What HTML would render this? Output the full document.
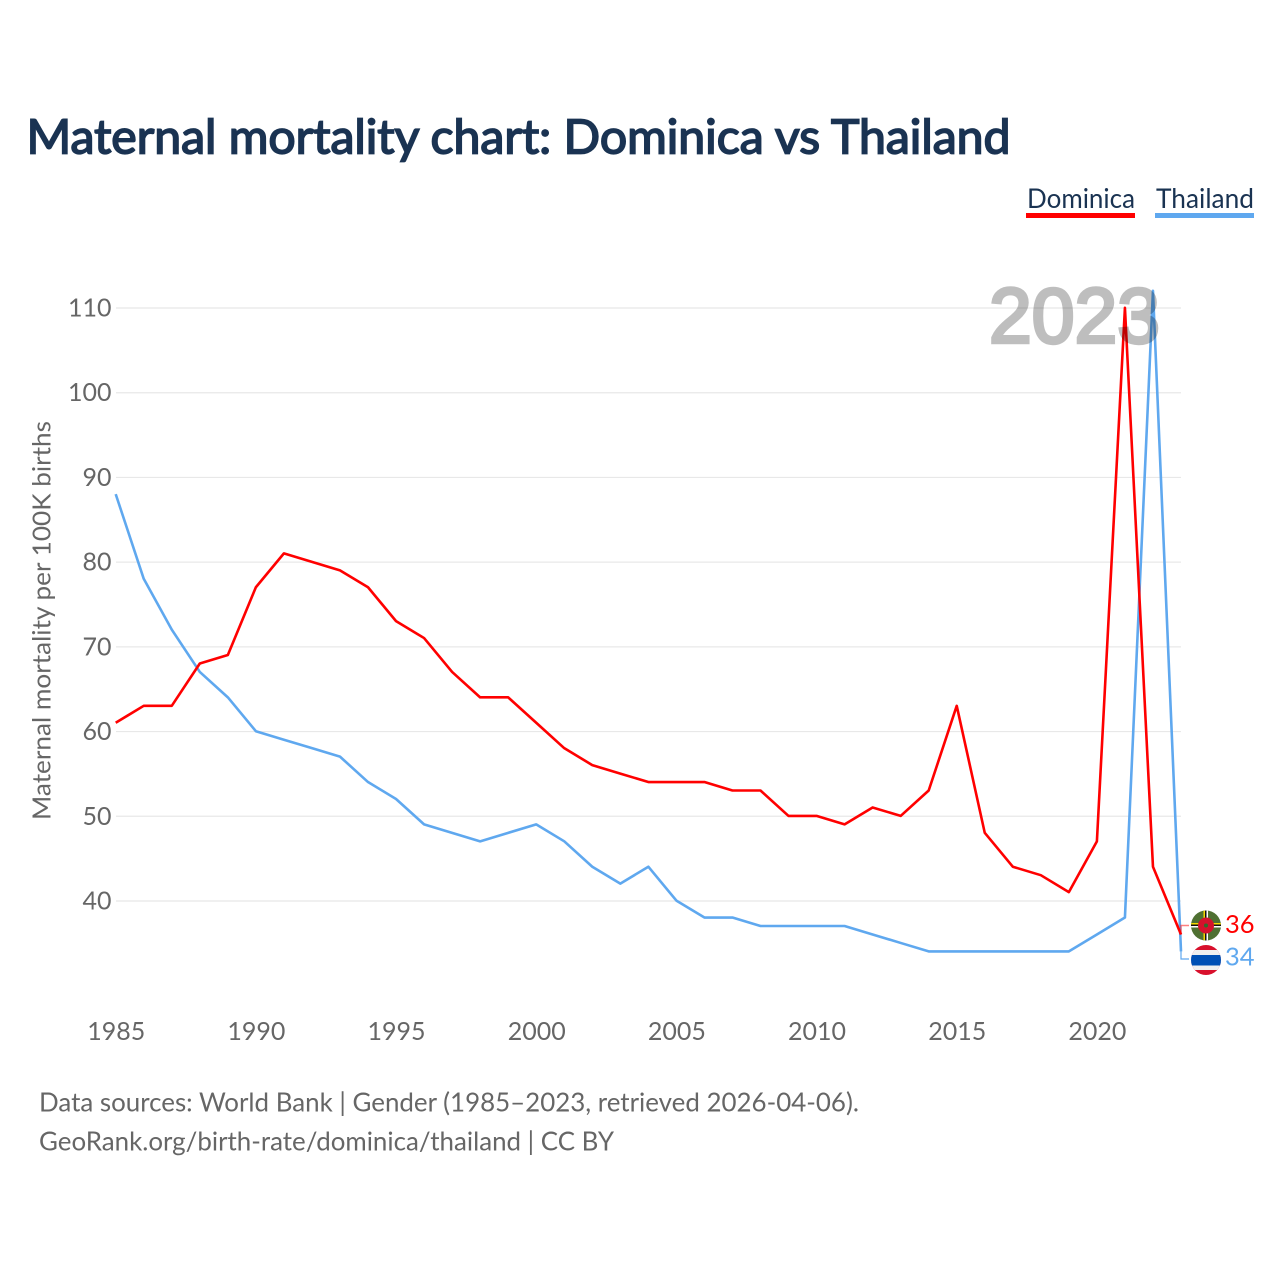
<!DOCTYPE html>
<html>
<head>
<meta charset="utf-8">
<style>
html,body{margin:0;padding:0;background:#fff}
svg{display:block}
text{font-family:"Lato","Carlito","Liberation Sans",sans-serif}
</style>
</head>
<body>
<svg id="chart" width="1280" height="1280" viewBox="0 0 1280 1280" xmlns="http://www.w3.org/2000/svg">
<defs>
<clipPath id="flag-clip-d"><circle cx="1206" cy="925.5" r="15"/></clipPath>
<clipPath id="flag-clip-t"><circle cx="1206" cy="960" r="15"/></clipPath>
</defs>
<text x="26.5" y="153.5" font-size="47.5" font-weight="400" fill="#1a3352" stroke="#1a3352" stroke-width="1.7" textLength="984" lengthAdjust="spacingAndGlyphs">Maternal mortality chart: Dominica vs Thailand</text>
<g>
<text x="1027" y="208" font-size="27" fill="#1a3352" textLength="108" lengthAdjust="spacingAndGlyphs">Dominica</text>
<rect x="1026" y="213" width="109" height="5" fill="#ff0000"/>
</g>
<g>
<text x="1156" y="208" font-size="27" fill="#1a3352" textLength="98" lengthAdjust="spacingAndGlyphs">Thailand</text>
<rect x="1155" y="213" width="99" height="5" fill="#5fa8ef"/>
</g>
<g id="grid"></g>
<g id="yticks"></g>
<g id="xticks"></g>
<text transform="translate(50.5,820) rotate(-90)" font-size="25" fill="#666" textLength="399" lengthAdjust="spacingAndGlyphs">Maternal mortality per 100K births</text>
<g id="series"></g>
<text x="989" y="342.5" font-size="78" font-weight="400" fill="#000" stroke="#000" stroke-width="3.4" opacity="0.25" textLength="171" lengthAdjust="spacingAndGlyphs" style="font-family:'Liberation Sans',sans-serif">2023</text>
<g clip-path="url(#flag-clip-d)">
<rect x="1191" y="910" width="30" height="31" fill="#4f7032"/>
<rect x="1191" y="923" width="30" height="1.5" fill="#f5d800"/>
<rect x="1191" y="924.5" width="30" height="1.5" fill="#111"/>
<rect x="1191" y="926" width="30" height="1.5" fill="#fff"/>
<rect x="1203.5" y="910" width="1.5" height="31" fill="#f5d800"/>
<rect x="1205" y="910" width="1.5" height="31" fill="#111"/>
<rect x="1206.5" y="910" width="1.5" height="31" fill="#fff"/>
<circle cx="1206" cy="925.5" r="8" fill="#d4122c"/>
<circle cx="1206" cy="925.5" r="2" fill="#2f6b2a"/>
</g>
<g clip-path="url(#flag-clip-t)">
<rect x="1191" y="945" width="30" height="30" fill="#d8102c"/>
<rect x="1191" y="950" width="30" height="20" fill="#f0f0f0"/>
<rect x="1191" y="955" width="30" height="10.5" fill="#0050b5"/>
</g>
<text x="1225" y="933" font-size="25.5" fill="#ff0000">36</text>
<text x="1225" y="965.5" font-size="25.5" fill="#5fa8ef">34</text>
<text x="39" y="1111.5" font-size="26" fill="#666" textLength="820" lengthAdjust="spacingAndGlyphs">Data sources: World Bank | Gender (1985–2023, retrieved 2026-04-06).</text>
<text x="39" y="1150.5" font-size="26" fill="#666" textLength="575" lengthAdjust="spacingAndGlyphs">GeoRank.org/birth-rate/dominica/thailand | CC BY</text>
</svg>
<script>
const years = [1985,1986,1987,1988,1989,1990,1991,1992,1993,1994,1995,1996,1997,1998,1999,2000,2001,2002,2003,2004,2005,2006,2007,2008,2009,2010,2011,2012,2013,2014,2015,2016,2017,2018,2019,2020,2021,2022,2023];
const dominica = [61,63,63,68,69,77,81,80,79,77,73,71,67,64,64,61,58,56,55,54,54,54,53,53,50,50,49,51,50,53,63,48,44,43,41,47,110,44,36];
const thailand = [88,78,72,67,64,60,59,58,57,54,52,49,48,47,48,49,47,44,42,44,40,38,38,37,37,37,37,36,35,34,34,34,34,34,34,36,38,112,34];
const yTickValues = [40,50,60,70,80,90,100,110];
const xTickValues = [1985,1990,1995,2000,2005,2010,2015,2020];
const NS = 'http://www.w3.org/2000/svg';
const xScale = y => 115.7 + (y - 1985) * (1181 - 115.7) / 38;
const yScale = v => 900.6 - (v - 40) * (900.6 - 307.8) / 70;
const gridY = v => 901 - (v - 40) * (901 - 308) / 70;
function make(tag, attrs, parent, txt) {
  const el = document.createElementNS(NS, tag);
  for (const k in attrs) el.setAttribute(k, attrs[k]);
  if (txt !== undefined) el.textContent = txt;
  parent.appendChild(el);
  return el;
}
const grid = document.getElementById('grid');
const yticks = document.getElementById('yticks');
const xticks = document.getElementById('xticks');
const series = document.getElementById('series');
yTickValues.forEach(v => {
  const l = make('line', {x1: 116, x2: 1181, y1: gridY(v), y2: gridY(v), stroke: '#e8e8e8', 'stroke-width': 1.2}, grid);
  
  
  const t = make('text', {x: 111.5, y: gridY(v) + 8.5, 'font-size': 25, fill: '#666', 'text-anchor': 'end'}, yticks, v);
  
  
});
xTickValues.forEach(v => {
  const t = make('text', {x: xScale(v) + 0.5, y: 1040, 'font-size': 25, fill: '#666', 'text-anchor': 'middle'}, xticks, v);
  
  
});
function linePath(vals) {
  return vals.map((v, i) => (i ? 'L' : 'M') + xScale(years[i]).toFixed(2) + ' ' + yScale(v).toFixed(2)).join(' ');
}
const lineT = make('path', {d: linePath(thailand), fill: 'none', stroke: '#5fa8ef', 'stroke-width': 2.6, 'stroke-linejoin': 'round'}, series);


const lineD = make('path', {d: linePath(dominica), fill: 'none', stroke: '#ff0000', 'stroke-width': 2.6, 'stroke-linejoin': 'round'}, series);


const lastX = xScale(years[years.length - 1]);
const connD = make('path', {d: 'M' + lastX + ' ' + yScale(dominica[dominica.length - 1]) + ' V925.5 H1189', fill: 'none', stroke: '#ff0000', 'stroke-opacity': 0.5, 'stroke-width': 1.5}, series);


const connT = make('path', {d: 'M' + lastX + ' ' + yScale(thailand[thailand.length - 1]) + ' V959 H1189', fill: 'none', stroke: '#5fa8ef', 'stroke-width': 1.2}, series);


</script>
</body>
</html>
